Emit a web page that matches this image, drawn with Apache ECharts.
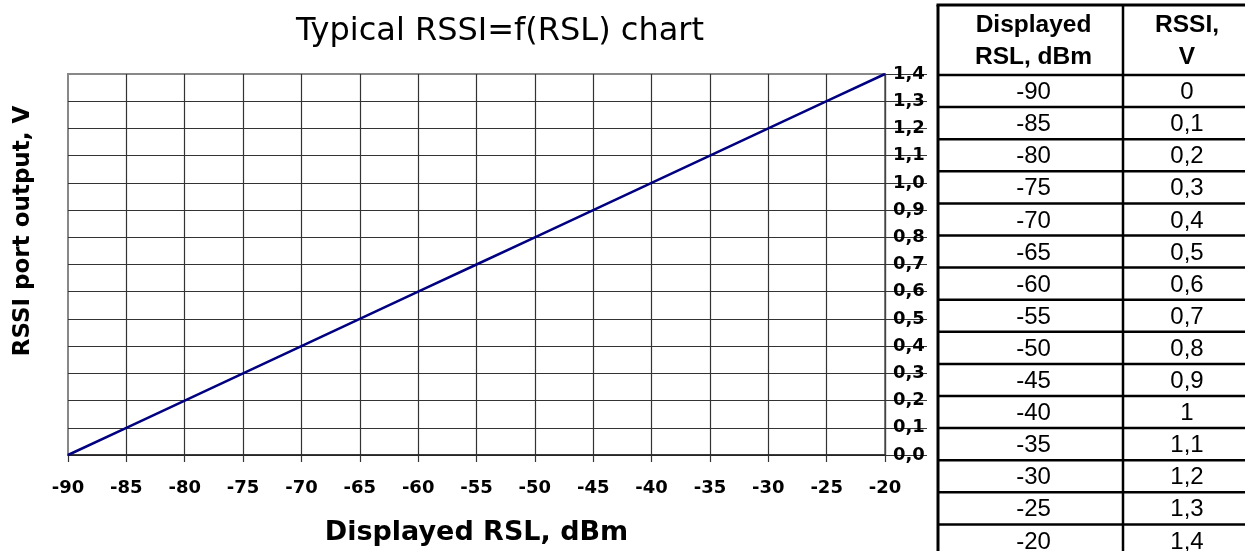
<!DOCTYPE html>
<html>
<head>
<meta charset="utf-8">
<script src="https://cdn.jsdelivr.net/npm/echarts@6/dist/echarts.min.js"></script>
<style>
html,body{margin:0;padding:0;background:#fff;}
#chart{width:1245px;height:551px;}
</style>
</head>
<body>
<div id="chart"></div>
<script>
// ---- data ----
const rslValues = [-90, -85, -80, -75, -70, -65, -60, -55, -50, -45, -40, -35, -30, -25, -20];
const rssiValues = [0, 0.1, 0.2, 0.3, 0.4, 0.5, 0.6, 0.7, 0.8, 0.9, 1.0, 1.1, 1.2, 1.3, 1.4];
const titleText = 'Typical RSSI=f(RSL) chart';
const xAxisName = 'Displayed RSL, dBm';
const yAxisName = 'RSSI port output, V';
const tableHeaders = [['Displayed', 'RSL, dBm'], ['RSSI,', 'V']];

// ---- helpers ----
const comma = v => String(v).replace('.', ',');
const fixed1 = v => v.toFixed(1).replace('.', ',');

const chart = echarts.init(document.getElementById('chart'), null, {renderer: 'canvas'});

// table geometry
const tLeft = 938, tMid = 1123, tRight = 1251, tTop = 5, tHead = 75, rowH = 32.1;
const graphics = [];
const lineStyle = (w) => ({stroke: '#000', lineWidth: w});
graphics.push({type: 'line', shape: {x1: tLeft - 1.5, y1: tTop, x2: 1245, y2: tTop}, style: lineStyle(3)});
graphics.push({type: 'line', shape: {x1: tLeft, y1: tTop, x2: tLeft, y2: 551}, style: lineStyle(3)});
graphics.push({type: 'line', shape: {x1: tMid, y1: tTop, x2: tMid, y2: 551}, style: lineStyle(2.5)});
for (let k = 0; k < rslValues.length; k++) {
  const y = tHead + k * rowH;
  graphics.push({type: 'line', shape: {x1: tLeft, y1: y, x2: 1245, y2: y}, style: lineStyle(2.5)});
}
const c1 = (tLeft + tMid) / 2 + 3, c2 = (tMid + tRight) / 2;
tableHeaders.forEach((hdr, ci) => {
  hdr.forEach((txt, li) => {
    graphics.push({type: 'text', x: ci === 0 ? c1 : c2, y: li === 0 ? 25 : 57,
      style: {text: txt, fontFamily: 'Liberation Sans', fontSize: 24.5, fontWeight: 'bold', fill: '#000',
        align: 'center', verticalAlign: 'middle', textAlign: 'center', textVerticalAlign: 'middle'}});
  });
});
rslValues.forEach((v, i) => {
  const cy = tHead + (i + 0.5) * rowH + 1.5;
  graphics.push({type: 'text', x: c1, y: cy,
    style: {text: String(v), fontFamily: 'Liberation Sans', fontSize: 24, fill: '#000',
      align: 'center', verticalAlign: 'middle', textAlign: 'center', textVerticalAlign: 'middle'}});
  graphics.push({type: 'text', x: c2, y: cy,
    style: {text: comma(rssiValues[i]), fontFamily: 'Liberation Sans', fontSize: 24, fill: '#000',
      align: 'center', verticalAlign: 'middle', textAlign: 'center', textVerticalAlign: 'middle'}});
});
// rotated y-axis name
graphics.push({type: 'text', x: 23, y: 231, rotation: Math.PI / 2,
  style: {text: yAxisName, fontFamily: 'DejaVu Sans', fontSize: 23, fontWeight: 'bold', fill: '#000',
    align: 'center', verticalAlign: 'middle', textAlign: 'center', textVerticalAlign: 'middle'}});

const option = {
  backgroundColor: '#fff',
  animation: false,
  title: {
    text: titleText, left: 495, top: 11, textAlign: 'center',
    textStyle: {fontFamily: 'DejaVu Sans', fontSize: 32, fontWeight: 'normal', color: '#000'}
  },
  grid: {left: 68, right: 360, top: 74, bottom: 96, show: true, borderColor: '#888', borderWidth: 2, backgroundColor: 'transparent'},
  xAxis: {
    type: 'value', min: -90, max: -20, interval: 5,
    name: xAxisName, nameLocation: 'middle', nameGap: 64,
    nameTextStyle: {fontFamily: 'DejaVu Sans', fontSize: 27, fontWeight: 'bold', color: '#000'},
    axisLine: {show: true, onZero: false, lineStyle: {color: '#222', width: 1.5}},
    axisTick: {show: true, inside: false, length: 7, lineStyle: {color: '#333', width: 1.2}},
    axisLabel: {margin: 24, fontFamily: 'DejaVu Sans', fontSize: 18, fontWeight: 'bold', color: '#000'},
    splitLine: {show: true, showMinLine: false, lineStyle: {color: '#333', width: 1.2}}
  },
  yAxis: {
    type: 'value', position: 'right', min: 0, max: 1.4, interval: 0.1,
    axisLine: {show: true, lineStyle: {color: '#444', width: 1.2}},
    axisTick: {show: true, inside: false, length: 42, lineStyle: {color: '#333', width: 1.2}},
    axisLabel: {margin: 8, fontFamily: 'DejaVu Sans', fontSize: 18, fontWeight: 'bold', color: '#000', formatter: fixed1},
    splitLine: {show: true, showMaxLine: false, lineStyle: {color: '#333', width: 1.2}}
  },
  series: [{
    type: 'line',
    data: rslValues.map((x, i) => [x, rssiValues[i]]),
    showSymbol: false, symbol: 'none',
    lineStyle: {color: '#000080', width: 2.5},
    z: 5
  }],
  graphic: graphics
};
chart.setOption(option);
</script>
</body>
</html>
